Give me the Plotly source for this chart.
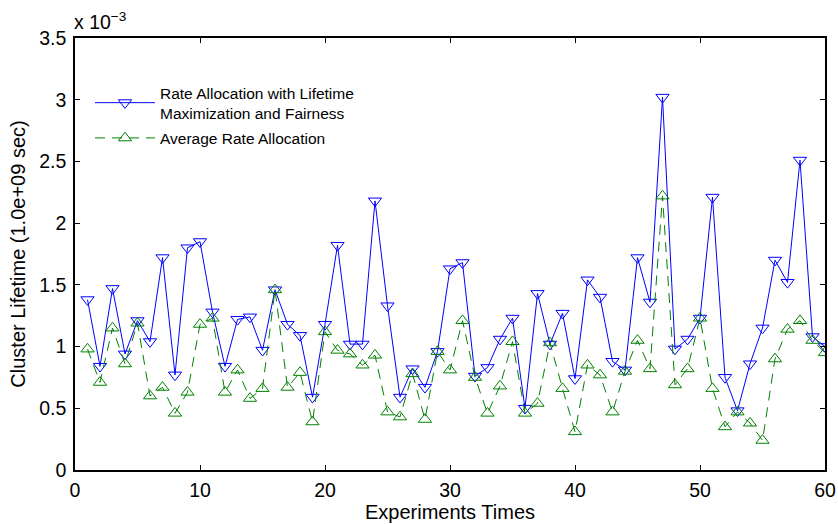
import plotly.graph_objects as go

experiments = list(range(1, 61))
# values in units of 1e-3 (x 1.0e+09 sec)
rate_fair = [1.38, 0.84, 1.47, 0.94, 1.21, 1.04, 1.72, 0.77, 1.80, 1.85,
             1.28, 0.84, 1.22, 1.24, 0.97, 1.46, 1.18, 1.09, 0.59, 1.18,
             1.82, 1.02, 1.02, 2.18, 1.33, 0.59, 0.82, 0.67, 0.96, 1.63,
             1.68, 0.76, 0.83, 1.06, 1.23, 0.50, 1.43, 1.02, 1.27, 0.74,
             1.54, 1.40, 0.88, 0.81, 1.72, 1.36, 3.02, 0.98, 1.06, 1.23,
             2.21, 0.75, 0.48, 0.86, 1.15, 1.70, 1.52, 2.51, 1.08, 1.00]
rate_avg = [0.98, 0.71, 1.15, 0.86, 1.19, 0.60, 0.67, 0.46, 0.63, 1.18,
            1.23, 0.63, 0.81, 0.58, 0.66, 1.46, 0.67, 0.79, 0.39, 1.12,
            0.97, 0.94, 0.85, 0.93, 0.47, 0.43, 0.78, 0.41, 0.96, 0.81,
            1.21, 0.75, 0.46, 0.68, 1.04, 0.46, 0.54, 1.03, 0.66, 0.31,
            0.85, 0.77, 0.47, 0.80, 1.05, 0.82, 2.22, 0.69, 0.82, 1.23,
            0.66, 0.35, 0.47, 0.38, 0.24, 0.90, 1.14, 1.21, 1.05, 0.95]
x_ticks = [0, 10, 20, 30, 40, 50, 60]
y_ticks = [0, 0.5, 1, 1.5, 2, 2.5, 3, 3.5]
y_tick_text = ["0", "0.5", "1", "1.5", "2", "2.5", "3", "3.5"]

FONT = "Liberation Sans, Arial, Helvetica, sans-serif"

fig = go.Figure()
fig.add_trace(go.Scatter(
    x=experiments, y=rate_fair, mode="lines+markers",
    name="Rate Allocation with Lifetime<br>Maximization and Fairness",
    legendgroup="a",
    line=dict(color="#0000ff", width=1),
    marker=dict(symbol="triangle-down-open", size=11.5, color="#0000ff",
                line=dict(width=1, color="#0000ff")),
))
fig.add_trace(go.Scatter(
    x=experiments, y=rate_avg, mode="lines+markers",
    name="Average Rate Allocation",
    legendgroup="b",
    line=dict(color="#008000", width=1, dash="10px,7px"),
    marker=dict(symbol="triangle-up-open", size=11.5, color="#008000",
                line=dict(width=1, color="#008000")),
))

axis_common = dict(
    showline=True, linecolor="black", linewidth=1.5, mirror="ticks",
    ticks="inside", ticklen=5, tickcolor="black", tickwidth=1,
    showgrid=False, zeroline=False, automargin=False,
    tickfont=dict(family=FONT, size=19.5, color="black"),
)
fig.update_xaxes(range=[0, 60], tickvals=x_ticks, ticklabelstandoff=2,
                 title=dict(text="Experiments Times", standoff=2,
                            font=dict(family=FONT, size=20, color="black")),
                 **axis_common)
fig.update_yaxes(range=[0, 3.5], tickvals=y_ticks, ticktext=y_tick_text,
                 ticklabelstandoff=3,
                 title=dict(text="Cluster Lifetime (1.0e+09 sec)", standoff=8,
                            font=dict(family=FONT, size=20, color="black")),
                 **axis_common)

fig.add_annotation(xref="paper", yref="paper", x=0, y=1.0, yanchor="bottom",
                   xanchor="left", xshift=-3, yshift=3, showarrow=False,
                   text="x 10<sup>−3</sup>",
                   font=dict(family=FONT, size=19.5, color="black"))

fig.update_layout(
    width=838, height=524,
    margin=dict(l=75, r=13, t=38, b=54),
    paper_bgcolor="white", plot_bgcolor="white",
    legend=dict(x=0.02, y=0.912, xanchor="left", yanchor="top",
                bgcolor="rgba(0,0,0,0)", borderwidth=0,
                font=dict(family=FONT, size=15.5, color="black"),
                itemwidth=60, tracegroupgap=2),
    showlegend=True,
)

fig.write_html("out.html", config={"displayModeBar": False},
               post_script="document.body.style.margin='0px';")
